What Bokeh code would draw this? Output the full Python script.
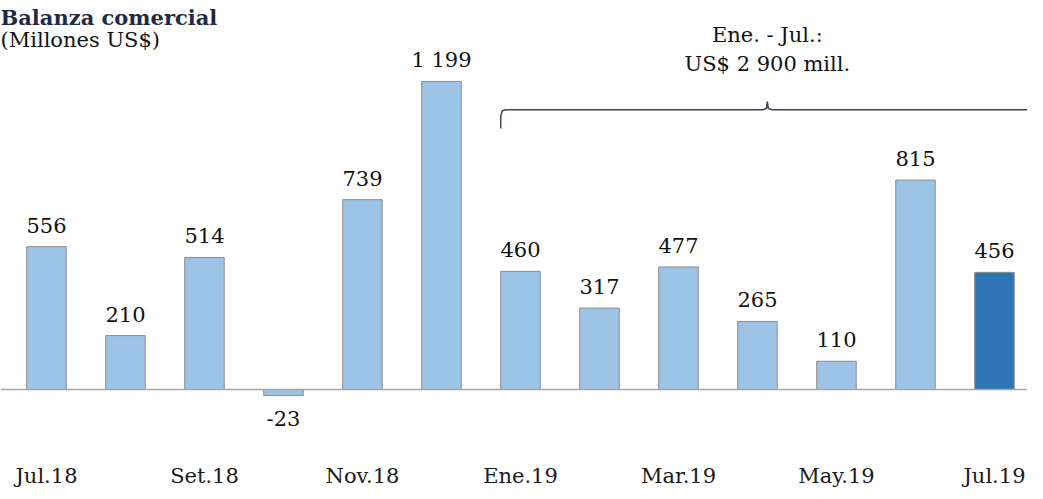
from bokeh.plotting import figure
from bokeh.models import (ColumnDataSource, LabelSet, Label, Span, LinearAxis,
                          FixedTicker, Range1d)
from bokeh.embed import file_html
from bokeh.resources import INLINE
from bokeh.core.properties import value

# ---------------- data ----------------
months = ["Jul.18", "Ago.18", "Set.18", "Oct.18", "Nov.18", "Dic.18",
          "Ene.19", "Feb.19", "Mar.19", "Abr.19", "May.19", "Jun.19", "Jul.19"]
values = [556, 210, 514, -23, 739, 1199, 460, 317, 477, 265, 110, 815, 456]
tick_months = months[::2]
highlight = "Jul.19"
brace_from, brace_to = "Ene.19", "Jul.19"
brace_note = ["Ene. - Jul.:", "US$ 2 900 mill."]
title_text = "Balanza comercial"
subtitle_text = "(Millones US$)"

# ---------------- styling ----------------
LIGHT = "#9DC3E6"
DARK = "#2E75B6"
EDGE = "#8C8C8C"
FONT = "DejaVu Serif"
BAR_W = 0.5

xs = list(range(len(months)))
colors = [DARK if m == highlight else LIGHT for m in months]
labels = [f"{v:,}".replace(",", " ") for v in values]

src = ColumnDataSource(dict(x=xs, v=values, c=colors, lab=labels))
pos = ColumnDataSource(dict(x=[x for x, v in zip(xs, values) if v >= 0],
                            v=[v for v in values if v >= 0],
                            lab=[l for l, v in zip(labels, values) if v >= 0]))
neg = ColumnDataSource(dict(x=[x for x, v in zip(xs, values) if v < 0],
                            v=[v for v in values if v < 0],
                            lab=[l for l, v in zip(labels, values) if v < 0]))

p = figure(frame_width=1027, frame_height=443,
           x_range=Range1d(-0.582, 12.418), y_range=Range1d(-210, 1514),
           x_axis_location=None, y_axis_location=None,
           toolbar_location=None, output_backend="svg",
           min_border_left=0, min_border_right=0, min_border_top=0,
           min_border_bottom=40)
p.outline_line_color = None
p.xgrid.visible = False
p.ygrid.visible = False
p.background_fill_color = "white"

p.add_layout(Span(location=0, dimension="width", line_color="#A6A6A6",
                  line_width=1.5))

p.vbar(x="x", top="v", width=BAR_W, source=src, fill_color="c",
       line_color=EDGE, line_width=1)

p.add_layout(LabelSet(x="x", y="v", text="lab", source=pos,
                      text_align="center", text_baseline="alphabetic",
                      y_offset=14, text_font=value(FONT),
                      text_font_size="21px", text_color="#111111"))
p.add_layout(LabelSet(x="x", y="v", text="lab", source=neg,
                      text_align="center", text_baseline="alphabetic",
                      y_offset=-31, text_font=value(FONT),
                      text_font_size="21px", text_color="#111111"))

# x axis with every other month
ax = LinearAxis(ticker=FixedTicker(ticks=xs[::2]),
                major_label_overrides={i: m for i, m in zip(xs[::2], tick_months)})
ax.axis_line_color = None
ax.major_tick_line_color = None
ax.minor_tick_line_color = None
ax.major_label_standoff = 14
ax.major_label_text_font = FONT
ax.major_label_text_font_size = "21px"
ax.major_label_text_color = "#1a1a1a"
p.add_layout(ax, "below")

# brace over Ene.19 - Jul.19
i0 = months.index(brace_from) - BAR_W / 2
i1 = months.index(brace_to) + 2 * BAR_W / 2
mid = (i0 + i1) / 2
y_line, y_tip, y_bot = 1089, 1121, 1016
d = 0.06
bx = [i0, i0, i0 + d * 0.3, i0 + d, mid - d, mid - d * 0.2, mid, mid + d * 0.2,
      mid + d, i1 - d, i1 - d * 0.3, i1, i1]
by = [y_bot, y_line - 25, y_line - 5, y_line, y_line, y_line + 5, y_tip,
      y_line + 5, y_line, y_line, y_line - 5, y_line - 25, y_bot]
p.line(bx, by, line_color="#3B4654", line_width=1.5)

p.add_layout(Label(x=mid, y=y_tip, text=brace_note[0], text_align="center",
                   text_baseline="alphabetic", y_offset=66, text_font=FONT,
                   text_font_size="21px", text_color="#111111"))
p.add_layout(Label(x=mid, y=y_tip, text=brace_note[1], text_align="center",
                   text_baseline="alphabetic", y_offset=37, text_font=FONT,
                   text_font_size="21px", text_color="#111111"))

# title & subtitle (screen units from frame bottom-left)
p.add_layout(Label(x=0, y=426, x_units="screen", y_units="screen",
                   text=title_text, text_font=FONT, text_font_style="bold",
                   text_font_size="21px", text_color="#1F2A44",
                   text_baseline="alphabetic"))
p.add_layout(Label(x=0, y=404, x_units="screen", y_units="screen",
                   text=subtitle_text, text_font=FONT,
                   text_font_size="21px", text_color="#111111",
                   text_baseline="alphabetic"))

open("out.html", "w").write(file_html(p, INLINE))
